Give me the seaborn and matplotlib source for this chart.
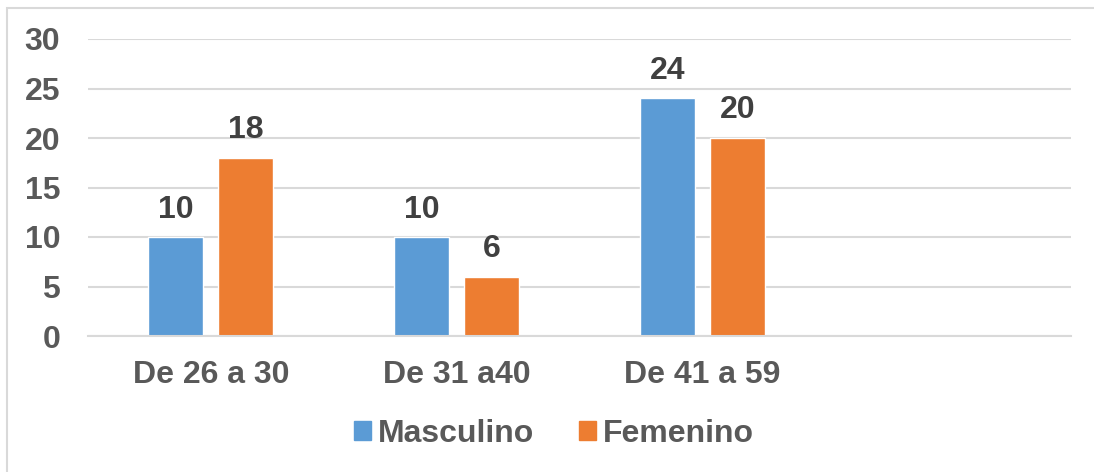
import matplotlib
matplotlib.use("Agg")
import matplotlib.pyplot as plt
import matplotlib.patches as mpatches
import seaborn as sns
import pandas as pd

categories = ["De 26 a 30", "De 31 a40", "De 41 a 59"]
masculino = [10, 10, 24]
femenino = [18, 6, 20]
series_names = ["Masculino", "Femenino"]
yticks = [0, 5, 10, 15, 20, 25, 30]

blue = "#5B9BD5"
orange = "#ED7D31"
text_col = "#595959"
label_col = "#404040"
grid_col = "#D9D9D9"

df = pd.DataFrame({
    "cat": categories * 2,
    "serie": [series_names[0]] * 3 + [series_names[1]] * 3,
    "val": masculino + femenino,
})

sns.set_theme(style="white")
plt.rcParams["font.family"] = ["Liberation Sans", "DejaVu Sans"]

FS = 23

fig = plt.figure(figsize=(10.94, 4.72), dpi=100)
ax = fig.add_axes([88 / 1094, 1 - 336 / 472, (1071 - 88) / 1094, (336 - 39) / 472])

sns.barplot(data=df, x="cat", y="val", hue="serie", order=categories,
            hue_order=series_names, palette=[blue, orange], width=0.569,
            gap=0.214, ax=ax, legend=False, saturation=1, errorbar=None)

ax.set_xlim(-0.5, 3.5)
ax.set_ylim(0, 30)
ax.set_yticks(yticks)
ax.set_yticklabels([str(v) for v in yticks])
ax.set_xlabel("")
ax.set_ylabel("")
ax.yaxis.grid(True, color=grid_col, linewidth=1.5)
ax.set_axisbelow(True)
for s in ["top", "right", "left"]:
    ax.spines[s].set_visible(False)
ax.spines["bottom"].set_color(grid_col)
ax.spines["bottom"].set_linewidth(1.5)
ax.tick_params(axis="both", length=0, labelsize=FS, colors=text_col)
ax.tick_params(axis="x", pad=17)
ax.tick_params(axis="y", pad=20)
for t in ax.get_xticklabels() + ax.get_yticklabels():
    t.set_fontweight("bold")

for cont in ax.containers:
    ax.bar_label(cont, labels=[f"{v:g}" for v in cont.datavalues], padding=9,
                 fontsize=FS, fontweight="bold", color=label_col)

handles = [mpatches.Patch(color=blue, label=series_names[0]),
           mpatches.Patch(color=orange, label=series_names[1])]
leg = fig.legend(handles=handles, loc="center", bbox_to_anchor=(554 / 1094, 1 - 434 / 472),
                 ncol=2, frameon=False, fontsize=FS, handlelength=0.53, handleheight=0.53,
                 handletextpad=0.22, columnspacing=1.4)
for t in leg.get_texts():
    t.set_color(text_col)
    t.set_fontweight("bold")

# outer chart border (top and left visible)
fig.add_artist(mpatches.Rectangle((7 / 1094, -0.1), 1.2, 1 - 8 / 472 + 0.1,
                                  transform=fig.transFigure, fill=False,
                                  edgecolor=grid_col, linewidth=1.5))

fig.savefig("out.png", dpi=100)
